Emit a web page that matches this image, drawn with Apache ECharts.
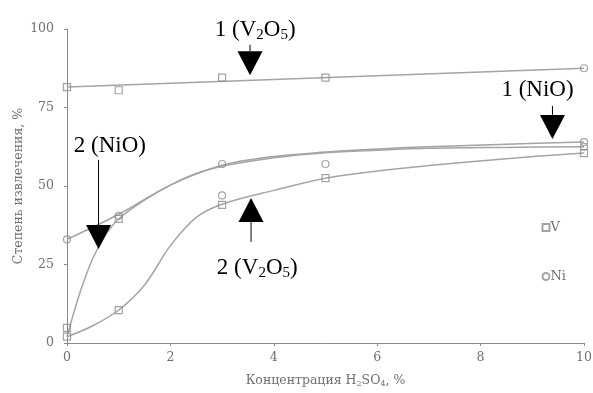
<!DOCTYPE html>
<html>
<head>
<meta charset="utf-8">
<script src="https://cdn.jsdelivr.net/npm/echarts@6/dist/echarts.min.js"></script>
<style>html,body{margin:0;padding:0;background:#fff;}#c{width:593px;height:393px;}</style>
</head>
<body>
<div id="c"></div>
<script>
// ---- data ----
const xTicks = [0, 2, 4, 6, 8, 10];
const yTicks = [0, 25, 50, 75, 100];

// fitted curves
const curveV2O5_1 = [[0, 81.5], [10, 87.5]];
const curveNiO_1 = [[0, 33], [1, 41], [2, 50.3], [3, 56.6], [4, 59.4], [5, 60.8], [6, 61.8], [7, 62.5], [8.5, 63.3], [10, 64]];
const curveNiO_2 = [[0, 2], [0.25, 16], [0.5, 27], [0.75, 34.5], [1, 39.5], [1.5, 45.5], [2, 50.3], [2.5, 54], [3, 56.3], [4, 59], [5, 60.6], [6, 61.4], [7, 62], [8.5, 62.3], [10, 62.5]];
const curveV2O5_2 = [[0, 2], [0.5, 5.5], [1, 10.5], [1.5, 18.5], [2, 31], [2.5, 40], [3, 44.2], [4, 48.6], [5, 52.5], [6, 54.8], [7, 56.5], [8.5, 58.7], [10, 60.5]];

// measured points
const pointsV = [[0, 81.5], [1, 80.5], [3, 84.5], [5, 84.5], [0, 4.8], [0, 2], [1, 39.5], [1, 10.5], [3, 44], [5, 52.5], [10, 60.5]];
const pointsNi = [[0, 33], [1, 40.5], [3, 57], [3, 47], [5, 57], [10, 64], [10, 62.5], [10, 87.5]];

// annotations: [tipX, tipY, textX, textY, stemEndY, direction(1=down,-1=up)]
const annotLabels = ['1 (V{s|2}O{s|5})', '1 (NiO)', '2 (NiO)', '2 (V{s|2}O{s|5})'];
const annotData = [
  [3.54, 85.3, 3.64, 99.7, 95.0, 1],
  [9.39, 65.0, 9.10, 80.6, 75.5, 1],
  [0.61, 29.9, 0.83, 62.7, 58.3, 1],
  [3.56, 46.2, 3.68, 23.9, 32.2, -1]
];

const serif = '"Liberation Serif", "Times New Roman", serif';
const wideSerif = '"DejaVu Serif", "Liberation Serif", serif';
const axisTextColor = '#707070';
const lineColor = '#a4a4a4';
const markColor = '#8c8c8c';

function curve(d) {
  return {
    type: 'line', data: d, smooth: 0.35, showSymbol: false, silent: true,
    lineStyle: { color: lineColor, width: 1.5 }, z: 2
  };
}

const chart = echarts.init(document.getElementById('c'), null, { renderer: 'canvas' });
chart.setOption({
  animation: false,
  backgroundColor: '#fff',
  grid: { left: 67, right: 9, top: 29, bottom: 50, containLabel: false, outerBoundsMode: 'none' },
  xAxis: {
    type: 'value', min: xTicks[0], max: xTicks[xTicks.length - 1], interval: xTicks[1] - xTicks[0],
    splitLine: { show: false },
    axisLine: { lineStyle: { color: '#8a8a8a', width: 1 } },
    axisTick: { show: true, length: 3, lineStyle: { color: '#8a8a8a' } },
    axisLabel: { color: axisTextColor, fontFamily: wideSerif, fontSize: 12.5, margin: 8 },
    name: '{a|Концентрация H}{s|2}{a|SO}{s|4}{a|, %}',
    nameLocation: 'middle', nameGap: 31,
    nameTextStyle: {
      rich: {
        a: { color: axisTextColor, fontFamily: wideSerif, fontSize: 12.5 },
        s: { color: axisTextColor, fontFamily: wideSerif, fontSize: 8, verticalAlign: 'bottom', padding: [6, 0, 0, 0] }
      }
    }
  },
  yAxis: {
    type: 'value', min: yTicks[0], max: yTicks[yTicks.length - 1], interval: yTicks[1] - yTicks[0],
    splitLine: { show: false },
    axisLine: { show: true, lineStyle: { color: '#8a8a8a', width: 1 } },
    axisTick: { show: true, length: 3, lineStyle: { color: '#8a8a8a' } },
    axisLabel: { color: axisTextColor, fontFamily: wideSerif, fontSize: 12.5, margin: 13 },
    name: 'Степень извлечения, %',
    nameLocation: 'middle', nameGap: 42, nameRotate: 90, nameMoveOverlap: false,
    nameTextStyle: { color: axisTextColor, fontFamily: wideSerif, fontSize: 12.5 }
  },
  legend: {
    orient: 'vertical', right: 22, top: 216, itemGap: 36,
    itemWidth: 7, itemHeight: 7, selectedMode: false,
    textStyle: { color: axisTextColor, fontFamily: wideSerif, fontSize: 13, padding: [0, 0, 0, -4] },
    data: ['V', 'Ni']
  },
  series: [
    curve(curveV2O5_1),
    curve(curveNiO_1),
    curve(curveNiO_2),
    curve(curveV2O5_2),
    {
      name: 'V', type: 'scatter', data: pointsV, symbol: 'rect', symbolSize: 7,
      itemStyle: { color: 'rgba(255,255,255,0)', borderColor: markColor, borderWidth: 1.2 }, z: 3
    },
    {
      name: 'Ni', type: 'scatter', data: pointsNi, symbol: 'circle', symbolSize: 7,
      itemStyle: { color: 'rgba(255,255,255,0)', borderColor: markColor, borderWidth: 1.2 }, z: 3
    },
    {
      type: 'custom', data: annotData, clip: false, silent: true, z: 5,
      renderItem: function (params, api) {
        const tip = api.coord([api.value(0), api.value(1)]);
        const txt = api.coord([api.value(2), api.value(3)]);
        const stemEnd = api.coord([api.value(0), api.value(4)]);
        const dir = api.value(5);
        const h = 24, w = 12.5;
        const baseY = tip[1] - dir * h;
        return {
          type: 'group',
          children: [
            { type: 'polygon', shape: { points: [[tip[0], tip[1]], [tip[0] - w, baseY], [tip[0] + w, baseY]] }, style: { fill: '#000' } },
            { type: 'line', shape: { x1: tip[0], y1: baseY, x2: tip[0], y2: stemEnd[1] }, style: { stroke: '#000', lineWidth: 1 } },
            {
              type: 'text', x: txt[0], y: txt[1],
              style: {
                text: '{a|' + annotLabels[params.dataIndex].replace(/\{s\|(\d)\}/g, '}{s|$1}{a|') + '}',
                align: 'center', verticalAlign: 'middle',
                rich: {
                  a: { fontFamily: serif, fontSize: 23, fill: '#000', lineHeight: 26 },
                  s: { fontFamily: serif, fontSize: 15, fill: '#000', verticalAlign: 'bottom', lineHeight: 26, padding: [7, 0, 0, 0] }
                }
              }
            }
          ]
        };
      }
    }
  ]
});
</script>
</body>
</html>
